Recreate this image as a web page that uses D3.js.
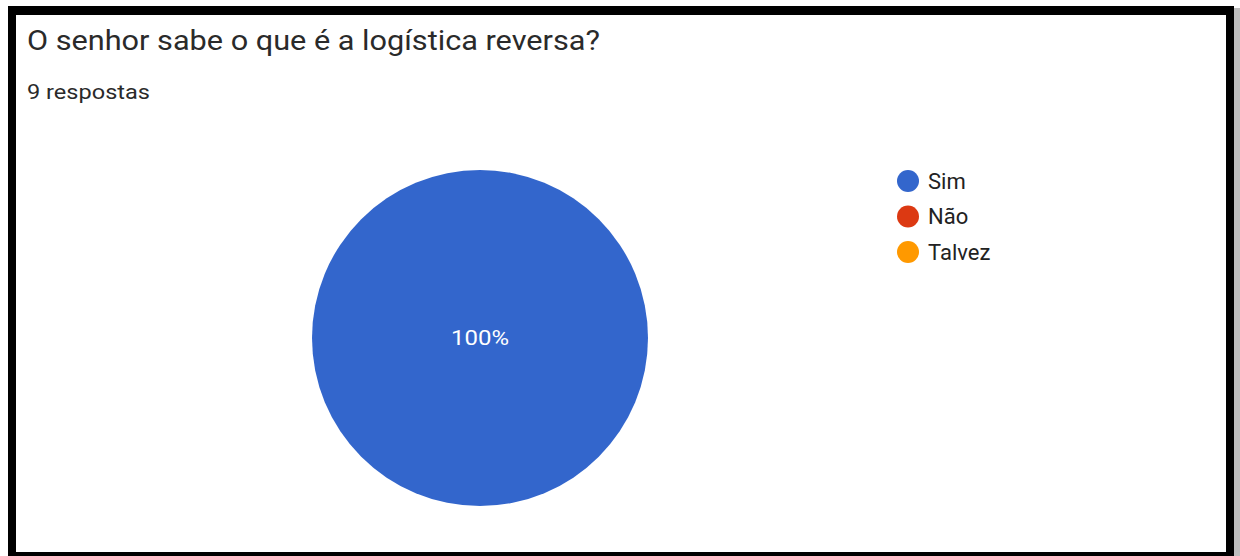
<!DOCTYPE html>
<html>
<head>
<meta charset="utf-8">
<script src="https://cdn.jsdelivr.net/npm/d3@7"></script>
<style>
  body { margin: 0; background: #fff; }
  svg { display: block; }
</style>
</head>
<body>
<svg width="1240" height="556"></svg>
<script>
const categories = ['Sim', 'Não', 'Talvez'];
const values = [9, 0, 0];
const colors = ['#3366cc', '#dc3912', '#ff9900'];
const title = 'O senhor sabe o que é a logística reversa?';
const subtitle = '9 respostas';

const svg = d3.select('svg');
const total = d3.sum(values);

// shadow + black frame
svg.append('rect').attr('x', 1234).attr('y', 8).attr('width', 6).attr('height', 548).attr('fill', '#bdbdbd');
svg.append('rect').attr('x', 8).attr('y', 6).attr('width', 1226).attr('height', 560).attr('fill', '#000');
svg.append('rect').attr('x', 16).attr('y', 15).attr('width', 1210).attr('height', 537).attr('fill', '#fff');

svg.append('text')
    .attr('x', 27).attr('y', 50)
    .attr('font-family', 'Roboto, sans-serif')
    .attr('font-size', 27)
    .attr('fill', '#2a2a2a')
    .attr('textLength', 573)
    .attr('lengthAdjust', 'spacingAndGlyphs')
    .text(title);

svg.append('text')
    .attr('x', 27).attr('y', 99)
    .attr('font-family', 'Roboto, sans-serif')
    .attr('font-size', 20)
    .attr('fill', '#2a2a2a')
    .attr('textLength', 123)
    .attr('lengthAdjust', 'spacingAndGlyphs')
    .text(subtitle);

const color = d3.scaleOrdinal().domain(categories).range(colors);
const pie = d3.pie().sort(null).value(d => d.value);
const data = categories.map((c, i) => ({ name: c, value: values[i] }));
const arc = d3.arc().innerRadius(0).outerRadius(168);

const pieG = svg.append('g').attr('transform', 'translate(480,338)');
const arcs = pie(data).filter(d => d.value > 0);

pieG.selectAll('path')
    .data(arcs)
    .enter().append('path')
    .attr('d', arc)
    .attr('fill', d => color(d.data.name));

const labelArc = d3.arc().innerRadius(100).outerRadius(100);
pieG.selectAll('text')
    .data(arcs)
    .enter().append('text')
    .attr('transform', d => d.endAngle - d.startAngle >= 2 * Math.PI - 1e-6 ? null : `translate(${labelArc.centroid(d)})`)
    .attr('text-anchor', 'middle')
    .attr('dy', '0.35em')
    .attr('font-family', 'Roboto, sans-serif')
    .attr('font-size', 21)
    .attr('fill', '#fff')
    .attr('textLength', 58)
    .attr('lengthAdjust', 'spacingAndGlyphs')
    .text(d => Math.round(d.value / total * 100) + '%');

const legendY = d3.scalePoint().domain(categories).range([181, 252]);
const legend = svg.append('g').selectAll('g')
    .data(categories)
    .enter().append('g')
    .attr('transform', d => `translate(908,${legendY(d)})`);

legend.append('circle')
    .attr('r', 11)
    .attr('fill', d => color(d));

legend.append('text')
    .attr('x', 20)
    .attr('dy', '0.35em')
    .attr('font-family', 'Roboto, sans-serif')
    .attr('font-size', 22)
    .attr('fill', '#222')
    .text(d => d);
</script>
</body>
</html>
